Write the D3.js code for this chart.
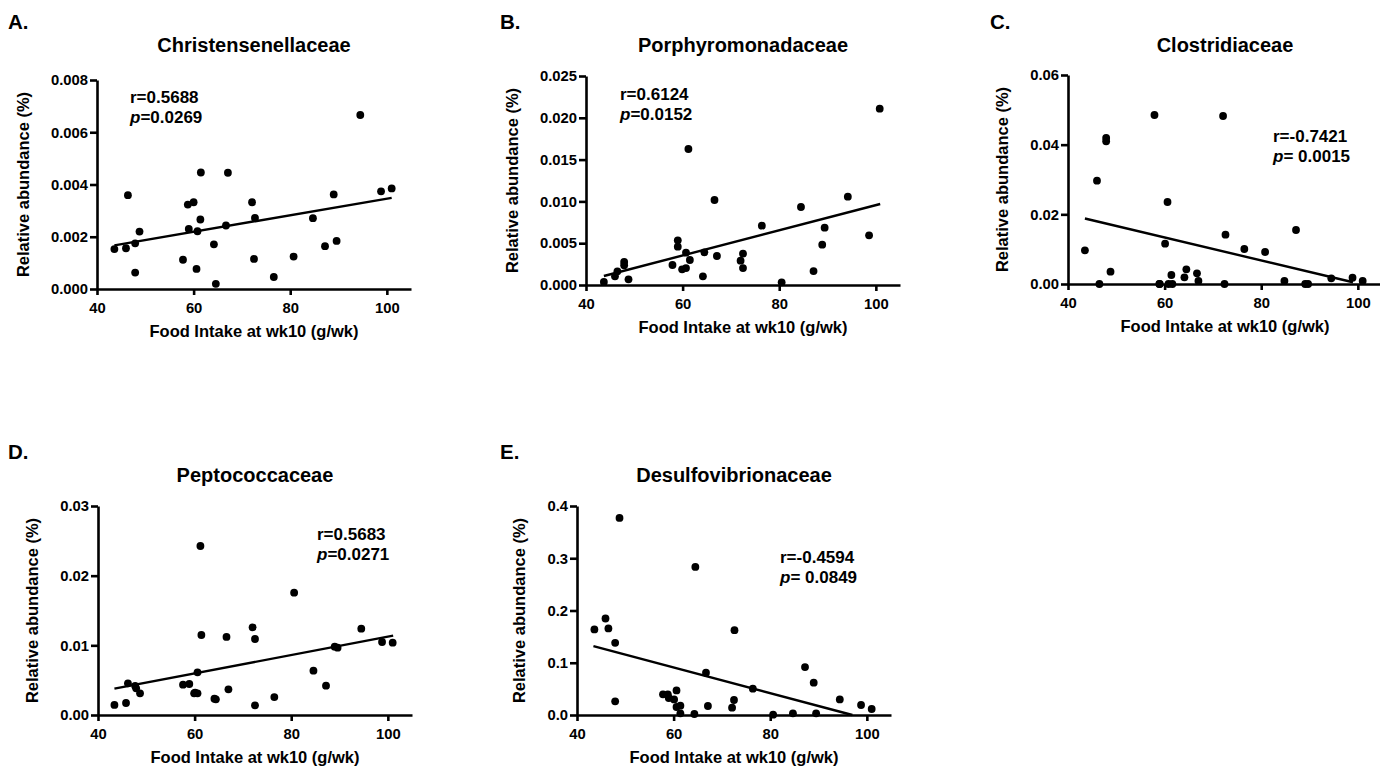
<!DOCTYPE html>
<html>
<head>
<meta charset="utf-8">
<script src="https://cdn.jsdelivr.net/npm/d3@7"></script>
<style>
  body { margin: 0; background: #fff; }
  svg { display: block; font-family: "Liberation Sans", Arial, sans-serif; font-weight: bold; }
  .axis path, .axis line { stroke: #000; stroke-width: 2.6; }
  .axis text { font-size: 14.8px; font-weight: bold; fill: #000; font-family: "Liberation Sans", Arial, sans-serif; }
</style>
</head>
<body>
<svg id="chart" width="1380" height="770"></svg>
<script>
// food intake at wk10 (g/wk) and relative abundance (%)
var foodA = [43.6,46.0,46.4,47.9,47.9,48.8,57.8,58.8,59.0,60.0,60.6,60.8,61.4,61.5,64.2,64.6,66.7,67.1,72.1,72.5,72.7,76.6,80.7,84.7,87.2,89.0,89.6,94.5,98.8,101.0];
var abundA = [0.00153,0.00156,0.00359,0.00175,0.00063,0.00220,0.00112,0.00323,0.00230,0.00332,0.00077,0.00221,0.00266,0.00446,0.00171,0.00020,0.00243,0.00445,0.00332,0.00115,0.00272,0.00046,0.00124,0.00271,0.00164,0.00362,0.00184,0.00666,0.00374,0.00385];
var fitA = [[43.6, 0.00167], [101.0, 0.00349]];

var foodB = [43.7,46.0,46.5,47.9,47.9,48.8,57.9,59.0,59.0,59.9,60.7,60.7,61.2,61.5,64.2,64.5,67.1,66.6,72.0,72.5,72.5,76.4,80.5,84.5,87.1,88.9,89.4,94.2,98.6,100.8];
var abundB = [0.00036,0.00104,0.00163,0.00275,0.00235,0.00068,0.00239,0.00534,0.00459,0.00187,0.00203,0.00387,0.01627,0.00299,0.00104,0.00391,0.00347,0.01017,0.00291,0.00375,0.00203,0.00710,0.00032,0.00933,0.00167,0.00482,0.00686,0.01057,0.00594,0.02109];
var fitB = [[43.7, 0.00108], [100.9, 0.00969]];

var foodC = [43.5,46.0,46.5,47.9,47.9,48.8,57.9,58.9,59.0,60.1,60.6,60.8,61.4,61.6,64.1,64.5,66.7,67.0,72.1,72.4,72.6,76.5,80.8,84.8,87.2,89.1,89.7,94.5,98.9,101.0];
var abundC = [0.00967,0.02967,0.0,0.04191,0.04096,0.00354,0.04852,0.0,0.0,0.01158,0.02354,0.0,0.00258,0.0,0.00191,0.00421,0.00306,0.00086,0.04823,0.0,0.01416,0.01005,0.00919,0.00086,0.0155,0.0,0.0,0.00163,0.00182,0.00086];
var fitC = [[43.5, 0.0188], [99.0, 0.0005]];

var foodD = [43.4,45.8,46.2,47.7,47.9,48.7,57.6,58.9,59.9,60.1,60.6,60.6,61.2,61.4,64.1,64.4,66.6,67.0,72.0,72.5,72.5,76.5,80.6,84.6,87.2,89.0,89.6,94.5,98.8,101.0];
var abundD = [0.00144,0.00172,0.00455,0.00416,0.00383,0.00311,0.00435,0.00445,0.00311,0.00320,0.00311,0.00612,0.02426,0.01148,0.00234,0.00225,0.01120,0.00368,0.01258,0.01091,0.00139,0.00258,0.01756,0.00636,0.00421,0.00981,0.00967,0.01239,0.01048,0.01038];
var fitD = [[43.4, 0.00378], [101.1, 0.01139]];

var foodE = [43.6,45.9,46.5,47.9,47.9,48.8,57.8,58.8,59.0,60.1,60.6,60.6,61.4,61.4,64.3,64.5,66.7,67.1,72.1,72.5,72.6,76.4,80.6,84.7,87.2,89.0,89.5,94.4,98.8,101.0];
var abundE = [0.1637,0.1847,0.1656,0.1382,0.0261,0.3771,0.0395,0.0395,0.0325,0.0299,0.0471,0.0153,0.0178,0.0032,0.0019,0.2834,0.0809,0.0172,0.0140,0.0287,0.1624,0.0503,0.0006,0.0032,0.0917,0.0618,0.0032,0.0299,0.0191,0.0115];
var fitE = [[43.4, 0.1318], [97.0, 0.0]];

var xTicks = [40, 60, 80, 100];

var panels = [
  {tag: "A.", title: "Christensenellaceae", xs: foodA, ys: abundA, fit: fitA, yMax: 0.008, yStep: 0.002, fmt: ".3f",
   r: "r=0.5688", p: "=0.0269", left: 97, top: 80, tagX: 8, tagY: 29, titleY: 52, statDx: 33, statDy: 23},
  {tag: "B.", title: "Porphyromonadaceae", xs: foodB, ys: abundB, fit: fitB, yMax: 0.025, yStep: 0.005, fmt: ".3f",
   r: "r=0.6124", p: "=0.0152", left: 586, top: 76, tagX: 500, tagY: 29, titleY: 52, statDx: 34, statDy: 24},
  {tag: "C.", title: "Clostridiaceae", xs: foodC, ys: abundC, fit: fitC, yMax: 0.06, yStep: 0.02, fmt: ".2f",
   r: "r=-0.7421", p: "= 0.0015", left: 1068, top: 75, tagX: 990, tagY: 29, titleY: 52, statDx: 205, statDy: 67},
  {tag: "D.", title: "Peptococcaceae", xs: foodD, ys: abundD, fit: fitD, yMax: 0.03, yStep: 0.01, fmt: ".2f",
   r: "r=0.5683", p: "=0.0271", left: 98, top: 506, tagX: 8, tagY: 459, titleY: 482, statDx: 219, statDy: 34},
  {tag: "E.", title: "Desulfovibrionaceae", xs: foodE, ys: abundE, fit: fitE, yMax: 0.4, yStep: 0.1, fmt: ".1f",
   r: "r=-0.4594", p: "= 0.0849", left: 577, top: 506, tagX: 500, tagY: 459, titleY: 482, statDx: 203, statDy: 57}
];

var W = 314, H = 209;
var svg = d3.select("#chart");

panels.forEach(function(pn) {
  var g = svg.append("g").attr("transform", "translate(" + pn.left + "," + pn.top + ")");

  var x = d3.scaleLinear().domain([40, 105]).range([0, W]);
  var y = d3.scaleLinear().domain([0, pn.yMax]).range([H, 0]);
  var yTicks = d3.range(0, pn.yMax + pn.yStep / 2, pn.yStep);

  svg.append("text")
    .attr("x", pn.tagX).attr("y", pn.tagY)
    .attr("font-size", 20.5)
    .text(pn.tag);

  svg.append("text")
    .attr("x", pn.left + W / 2).attr("y", pn.titleY)
    .attr("text-anchor", "middle")
    .attr("font-size", 20)
    .text(pn.title);

  // fit line under the dots
  g.append("line")
    .attr("x1", x(pn.fit[0][0])).attr("y1", y(pn.fit[0][1]))
    .attr("x2", x(pn.fit[1][0])).attr("y2", y(pn.fit[1][1]))
    .attr("stroke", "#000").attr("stroke-width", 2.4);

  var yAx = g.append("g").attr("class", "axis")
    .call(d3.axisLeft(y).tickValues(yTicks).tickFormat(d3.format(pn.fmt)).tickSize(7).tickSizeOuter(0).tickPadding(2));

  g.append("g").attr("class", "axis")
    .attr("transform", "translate(0," + H + ")")
    .call(d3.axisBottom(x).tickValues(xTicks).tickSize(6).tickSizeOuter(0).tickPadding(7));

  var pts = pn.xs.map(function(v, i) { return [v, pn.ys[i]]; });
  g.selectAll("circle.dot")
    .data(pts)
    .enter().append("circle")
    .attr("class", "dot")
    .attr("cx", function(d) { return x(d[0]); })
    .attr("cy", function(d) { return y(d[1]); })
    .attr("r", 3.9)
    .attr("fill", "#000");

  // y title sits just outside the widest tick label
  var bb = yAx.node().getBBox();
  g.append("text")
    .attr("transform", "translate(" + (bb.x - 22) + "," + (H / 2) + ") rotate(-90)")
    .attr("text-anchor", "middle")
    .attr("font-size", 16.5)
    .text("Relative abundance (%)");

  g.append("text")
    .attr("x", W / 2).attr("y", H + 48)
    .attr("text-anchor", "middle")
    .attr("font-size", 16.5)
    .text("Food Intake at wk10 (g/wk)");

  g.append("text")
    .attr("x", pn.statDx).attr("y", pn.statDy)
    .attr("font-size", 17)
    .text(pn.r);

  var pt = g.append("text")
    .attr("x", pn.statDx).attr("y", pn.statDy + 20)
    .attr("font-size", 17);
  pt.append("tspan").attr("font-style", "italic").text("p");
  pt.append("tspan").text(pn.p);
});
</script>
</body>
</html>
